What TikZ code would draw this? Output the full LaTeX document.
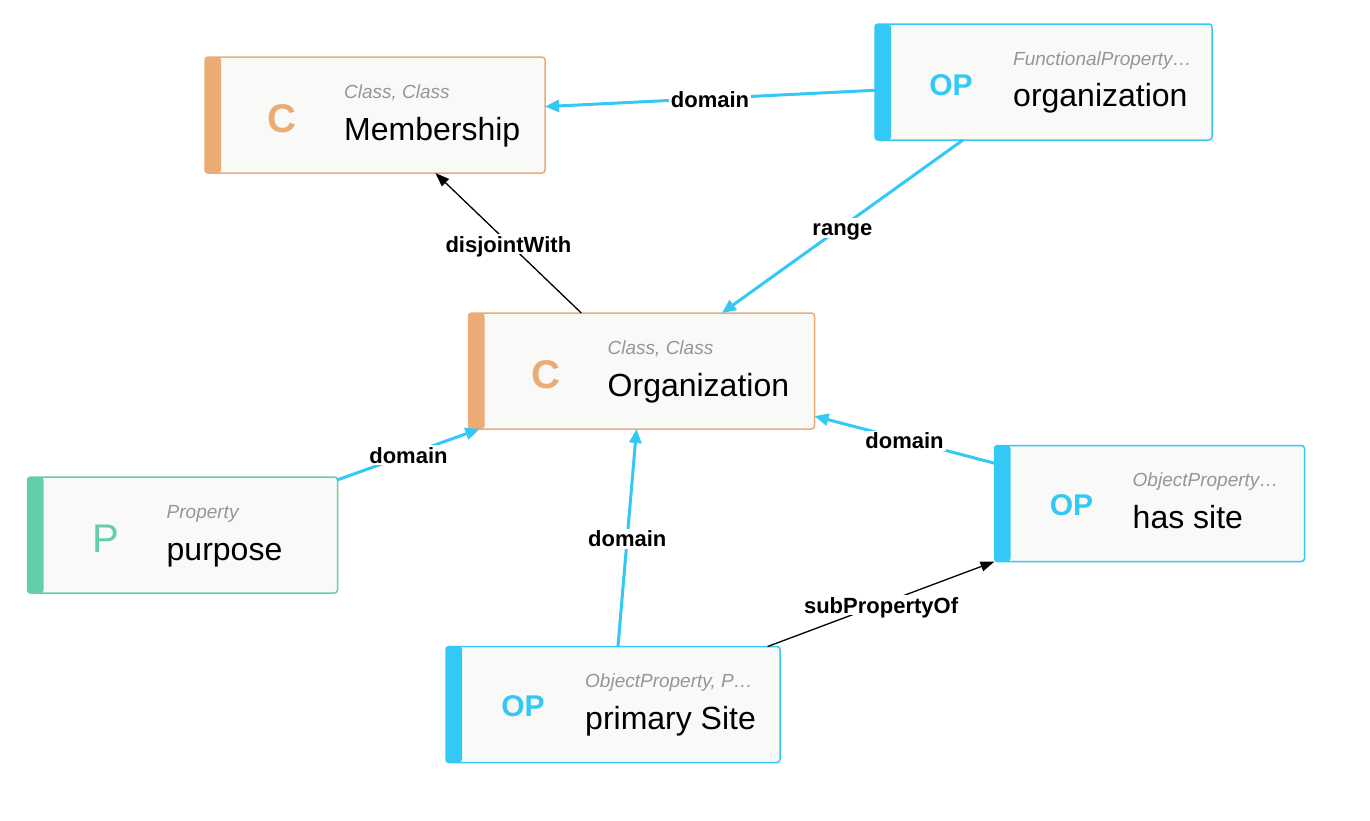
\documentclass[tikz,border=0pt]{standalone}
\usepackage{fontspec}
\setmainfont{Liberation Sans}
\usetikzlibrary{arrows.meta}

\definecolor{classorange}{RGB}{234,171,116}
\definecolor{propblue}{RGB}{51,200,245}
\definecolor{datagreen}{RGB}{99,207,168}
\definecolor{cardfill}{RGB}{249,249,247}
\definecolor{typegray}{RGB}{150,150,150}

\tikzset{
  card/.style={draw=#1, fill=cardfill, line width=1.5pt, rounded corners=3pt,
    minimum height=116pt, inner sep=0pt, outer sep=0pt},
  badge/.style={text=#1, anchor=base, inner sep=0pt,
    font=\fontsize{40}{40}\selectfont\bfseries},
  thinbadge/.style={text=#1, anchor=base, inner sep=0pt,
    font=\fontsize{40}{40}\selectfont},
  opbadge/.style={text=propblue, anchor=base, inner sep=0pt,
    font=\fontsize{30}{30}\selectfont\bfseries},
  kind/.style={text=typegray, anchor=base west, inner sep=0pt,
    font=\fontsize{19}{19}\selectfont\itshape},
  title/.style={anchor=base west, inner sep=0pt,
    font=\fontsize{32}{32}\selectfont},
  rel/.style={fill=white, inner sep=2pt, text height=16pt, text depth=0pt,
    yshift=-1pt, font=\fontsize{22}{22}\selectfont\bfseries},
  bluelink/.style={draw=propblue, line width=3pt, -{Triangle[length=14pt,width=12pt]}},
  blacklink/.style={draw=black, line width=1.3pt, -{Triangle[length=14pt,width=10pt]}}
}

\begin{document}
\begin{tikzpicture}[x=1pt, y=-1pt]
  \useasboundingbox (0,0) rectangle (1370,820);

  % cards
  \node[card=classorange, minimum width=340pt] (membership) at (375,115) {};
  \node[card=propblue, minimum width=337pt] (orgprop) at (1043.5,82) {};
  \node[card=classorange, minimum width=346pt] (organization) at (641.5,371) {};
  \node[card=datagreen, minimum width=310pt] (purpose) at (182.5,535) {};
  \node[card=propblue, minimum width=310pt] (hassite) at (1149.5,503.5) {};
  \node[card=propblue, minimum width=334pt] (primarysite) at (613,704.5) {};

  % coloured bars
  \fill[classorange, rounded corners=3pt] (membership.north west) rectangle ([xshift=16pt]membership.south west);
  \fill[propblue, rounded corners=3pt] (orgprop.north west) rectangle ([xshift=16pt]orgprop.south west);
  \fill[classorange, rounded corners=3pt] (organization.north west) rectangle ([xshift=16pt]organization.south west);
  \fill[datagreen, rounded corners=3pt] (purpose.north west) rectangle ([xshift=16pt]purpose.south west);
  \fill[propblue, rounded corners=3pt] (hassite.north west) rectangle ([xshift=16pt]hassite.south west);
  \fill[propblue, rounded corners=3pt] (primarysite.north west) rectangle ([xshift=16pt]primarysite.south west);
  \draw[white, line width=0.8pt] ([shift={(17,2)}]purpose.north west) -- ([shift={(17,-2)}]purpose.south west);
  \draw[white, line width=0.8pt] ([shift={(17,2)}]primarysite.north west) -- ([shift={(17,-2)}]primarysite.south west);

  % texts
  \node[badge=classorange] at ([shift={(77,75)}]membership.north west) {C};
  \node[kind] at ([shift={(139,41)}]membership.north west) {Class, Class};
  \node[title] at ([shift={(139,83)}]membership.north west) {Membership};

  \node[opbadge] at ([shift={(76,71)}]orgprop.north west) {OP};
  \node[kind] at ([shift={(138,41)}]orgprop.north west) {FunctionalProperty…};
  \node[title] at ([shift={(138,82)}]orgprop.north west) {organization};

  \node[badge=classorange] at ([shift={(77,75)}]organization.north west) {C};
  \node[kind] at ([shift={(139,41)}]organization.north west) {Class, Class};
  \node[title] at ([shift={(139,83)}]organization.north west) {Organization};

  \node[thinbadge=datagreen] at ([shift={(78,75)}]purpose.north west) {P};
  \node[kind] at ([shift={(139,41)}]purpose.north west) {Property};
  \node[title] at ([shift={(139,83)}]purpose.north west) {purpose};

  \node[opbadge] at ([shift={(77,70)}]hassite.north west) {OP};
  \node[kind] at ([shift={(138,41)}]hassite.north west) {ObjectProperty…};
  \node[title] at ([shift={(138,83)}]hassite.north west) {has site};

  \node[opbadge] at ([shift={(77,70)}]primarysite.north west) {OP};
  \node[kind] at ([shift={(139,41)}]primarysite.north west) {ObjectProperty, P…};
  \node[title] at ([shift={(139,83)}]primarysite.north west) {primary Site};

  % links
  \draw[bluelink] (orgprop) -- node[rel] {domain} (membership);
  \draw[bluelink] (orgprop) -- node[rel] {range} (organization);
  \draw[blacklink] (organization) -- node[rel] {disjointWith} (membership);
  \draw[bluelink] (purpose) -- node[rel] {domain} (organization);
  \draw[bluelink] (primarysite) -- node[rel] {domain} (organization);
  \draw[bluelink] (hassite) -- node[rel] {domain} (organization);
  \draw[blacklink] (primarysite) -- node[rel] {subPropertyOf} (hassite);
\end{tikzpicture}
\end{document}
